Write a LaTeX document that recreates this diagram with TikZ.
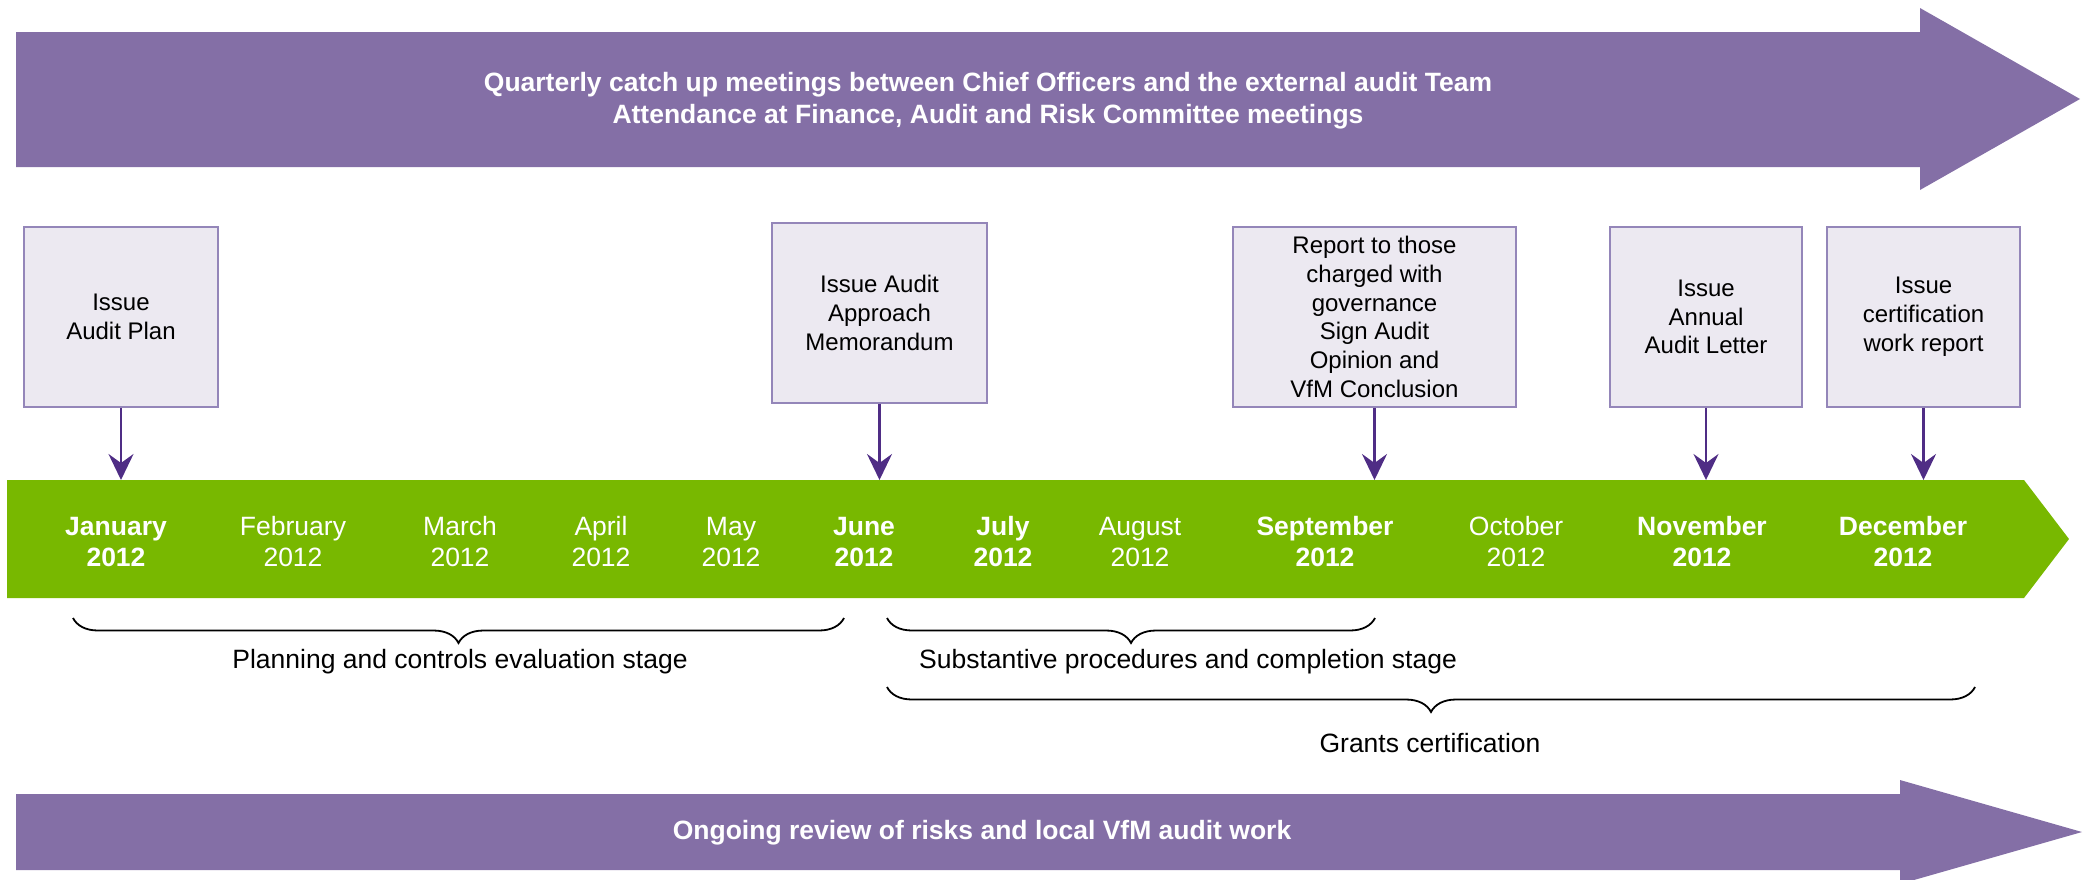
\documentclass[tikz,border=0pt]{standalone}
\usepackage{fontspec}
\setmainfont{Liberation Sans}
\usetikzlibrary{arrows.meta,decorations.pathreplacing}
\definecolor{banner}{HTML}{846FA6}
\definecolor{bargreen}{HTML}{78B800}
\definecolor{boxfill}{HTML}{ECE9F1}
\definecolor{boxline}{HTML}{9486B9}
\definecolor{arrowc}{HTML}{4F2D85}
\begin{document}
\begin{tikzpicture}[x=1pt,y=-1pt,
  evbox/.style={draw=boxline,line width=1.6pt,fill=boxfill,inner sep=0pt,align=center,
    minimum height=180pt,font=\fontsize{24}{28.8}\selectfont},
  month/.style={text=white,align=center,font=\fontsize{26.5}{31}\selectfont},
  bmonth/.style={text=white,align=center,font=\fontsize{26.5}{31}\selectfont\bfseries},
  pointer/.style={draw=arrowc,line width=2.6pt,-{Stealth[length=26pt,width=25pt,inset=9pt]}},
  bracket/.style={decorate,decoration={brace,amplitude=25pt},line width=1.8pt},
  lbl/.style={font=\fontsize{26.5}{32}\selectfont},
  btext/.style={text=white,align=center,font=\fontsize{26.5}{32}\selectfont\bfseries}]

\useasboundingbox (0,0) rectangle (2091,879);
\begin{scope}
\clip (0,0) rectangle (2091,879);
% top banner
\fill[banner] (16,32) -- (1920,32) -- (1920,8) -- (2080,99) -- (1920,190) -- (1920,167) -- (16,167) -- cycle;
% bottom banner
\fill[banner] (16,794) -- (1900,794) -- (1900,780) -- (2082,832) -- (1900,884) -- (1900,870) -- (16,870) -- cycle;
\end{scope}
\node[btext] (toptext) at (988,101) {Quarterly catch up meetings between Chief Officers and the external audit Team\\Attendance at Finance, Audit and Risk Committee meetings};
\node[btext] (bottext) at (982,833) {Ongoing review of risks and local VfM audit work};

% green timeline bar
\fill[bargreen] (7,480) -- (2024,480) -- (2069,539) -- (2024,598) -- (7,598) -- cycle;

% months
\node[bmonth] (jan) at (116,542) {January\\2012};
\node[month]  (feb) at (293,542) {February\\2012};
\node[month]  (mar) at (460,542) {March\\2012};
\node[month]  (apr) at (601,542) {April\\2012};
\node[month]  (may) at (731,542) {May\\2012};
\node[bmonth] (jun) at (864,542) {June\\2012};
\node[bmonth] (jul) at (1003,542) {July\\2012};
\node[month]  (aug) at (1140,542) {August\\2012};
\node[bmonth] (sep) at (1325,542) {September\\2012};
\node[month]  (oct) at (1516,542) {October\\2012};
\node[bmonth] (nov) at (1702,542) {November\\2012};
\node[bmonth] (dec) at (1903,542) {December\\2012};

% event boxes
\node[evbox,minimum width=194pt] (b1) at (121,317) {Issue\\Audit Plan};
\node[evbox,minimum width=215pt] (b2) at (879.5,313) {Issue Audit\\Approach\\Memorandum};
\node[evbox,minimum width=283pt] (b3) at (1374.5,317) {Report to those\\charged with\\governance\\Sign Audit\\Opinion and\\VfM Conclusion};
\node[evbox,minimum width=192pt] (b4) at (1706,317) {Issue\\Annual\\Audit Letter};
\node[evbox,minimum width=193pt] (b5) at (1923.5,317) {Issue\\certification\\work report};

\coordinate (t1) at (121,480);
\coordinate (t2) at (879.5,480);
\coordinate (t3) at (1374.5,480);
\coordinate (t4) at (1706,480);
\coordinate (t5) at (1923.5,480);
\draw[pointer] (b1.south) -- (t1);
\draw[pointer] (b2.south) -- (t2);
\draw[pointer] (b3.south) -- (t3);
\draw[pointer] (b4.south) -- (t4);
\draw[pointer] (b5.south) -- (t5);

% braces
\coordinate (br1a) at (844,618);
\coordinate (br1b) at (73,618);
\coordinate (br2a) at (1375,618);
\coordinate (br2b) at (887,618);
\coordinate (br3a) at (1975,687);
\coordinate (br3b) at (887,687);
\draw[bracket] (br1a) -- (br1b);
\draw[bracket] (br2a) -- (br2b);
\draw[bracket] (br3a) -- (br3b);

\node[lbl] (l1) at (460,662) {Planning and controls evaluation stage};
\node[lbl] (l2) at (1188,662) {Substantive procedures and completion stage};
\node[lbl] (l3) at (1430,743) {Grants certification};
\end{tikzpicture}
\end{document}
